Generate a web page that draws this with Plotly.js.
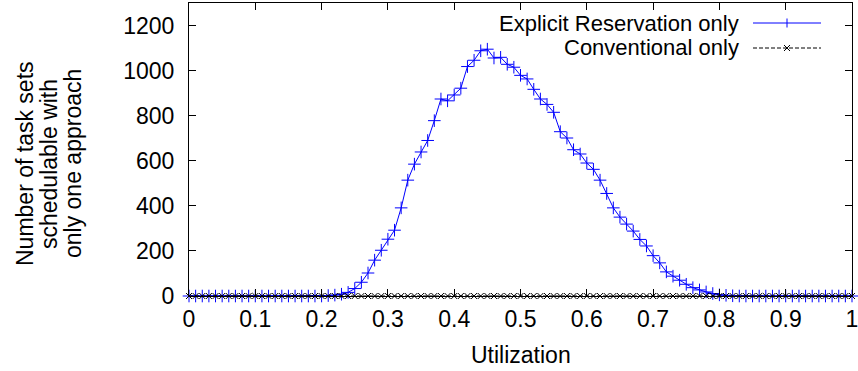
<!DOCTYPE html>
<html>
<head>
<meta charset="utf-8">
<script src="https://cdn.plot.ly/plotly-3.0.1.min.js"></script>
<style>html,body{margin:0;padding:0;background:#fff;}#chart{width:858px;height:371px;}</style>
</head>
<body>
<div id="chart"></div>
<script>
// Utilization values 0.00 .. 1.00 in steps of 0.01
const utilization = [
  0.00,0.01,0.02,0.03,0.04,0.05,0.06,0.07,0.08,0.09,
  0.10,0.11,0.12,0.13,0.14,0.15,0.16,0.17,0.18,0.19,
  0.20,0.21,0.22,0.23,0.24,0.25,0.26,0.27,0.28,0.29,
  0.30,0.31,0.32,0.33,0.34,0.35,0.36,0.37,0.38,0.39,
  0.40,0.41,0.42,0.43,0.44,0.45,0.46,0.47,0.48,0.49,
  0.50,0.51,0.52,0.53,0.54,0.55,0.56,0.57,0.58,0.59,
  0.60,0.61,0.62,0.63,0.64,0.65,0.66,0.67,0.68,0.69,
  0.70,0.71,0.72,0.73,0.74,0.75,0.76,0.77,0.78,0.79,
  0.80,0.81,0.82,0.83,0.84,0.85,0.86,0.87,0.88,0.89,
  0.90,0.91,0.92,0.93,0.94,0.95,0.96,0.97,0.98,0.99,
  1.00
];
const explicitOnly = [
  0,0,0,0,0,0,0,0,0,0,
  0,0,0,0,0,0,0,0,0,0,
  0,2,4,8,16,33,61,102,159,203,
  252,292,391,514,585,639,690,778,874,866,
  892,922,1018,1046,1088,1095,1056,1059,1028,1015,
  979,963,917,874,850,815,729,701,649,630,
  590,562,514,455,391,350,319,288,251,222,
  179,147,107,88,70,52,37,27,18,11,
  5,3,1,0,0,0,0,0,0,0,
  0,0,0,0,0,0,0,0,0,0,
  0
];
const conventionalOnly = [
  0,0,0,0,0,0,0,0,0,0,
  0,0,0,0,0,0,0,0,0,0,
  0,0,0,0,0,0,0,0,0,0,
  0,0,0,0,0,0,0,0,0,0,
  0,0,0,0,0,0,0,0,0,0,
  0,0,0,0,0,0,0,0,0,0,
  0,0,0,0,0,0,0,0,0,0,
  0,0,0,0,0,0,0,0,0,0,
  0,0,0,0,0,0,0,0,0,0,
  0,0,0,0,0,0,0,0,0,0,
  0
];
const seriesNames = ["Explicit Reservation only", "Conventional only"];
const xTickVals = [0,0.1,0.2,0.3,0.4,0.5,0.6,0.7,0.8,0.9,1];
const xTickText = ["0","0.1","0.2","0.3","0.4","0.5","0.6","0.7","0.8","0.9","1"];
const yTickVals = [0,200,400,600,800,1000,1200];
const yTickText = ["0","200","400","600","800","1000","1200"];
const xTitle = "Utilization";
const yTitleLines = ["Number of task sets", "schedulable with", "only one approach"];

const FONT = "Liberation Sans, Arial, sans-serif";
const FS = 23;
const BLUE = "#0000ff";

const traces = [
  {
    x: utilization, y: explicitOnly, name: seriesNames[0], type: "scatter", mode: "lines+markers",
    line: {color: BLUE, width: 1},
    marker: {symbol: "cross-thin", size: 9, line: {color: BLUE, width: 1}, color: BLUE},
    showlegend: false, cliponaxis: false
  },
  {
    x: utilization, y: conventionalOnly, name: seriesNames[1], type: "scatter", mode: "lines+markers",
    line: {color: "#000000", width: 1, dash: "4px,2px"},
    marker: {symbol: "x-thin", size: 6, line: {color: "#000000", width: 1}, color: "#000"},
    showlegend: false, cliponaxis: false
  }
];

// plot-area pixel geometry → paper coordinates helpers
const PL = 189, PW = 663, PT = 3, PH = 293;
const px = v => (v - PL) / PW;
const py = v => (PT + PH - v) / PH;

// custom gnuplot-style legend (text on the left, sample on the right)
const LFS = 22;
const lgX0 = px(753), lgX1 = px(821), lgXm = px(787), lgText = px(741);
const lgY = [py(23), py(48)];
const dyp = 4.5 / PH, dxx = 3 / PW, dyx = 3 / PH;
const shapes = [
  {type:"line", xref:"paper", yref:"paper", x0:lgX0, x1:lgX1, y0:lgY[0], y1:lgY[0], line:{color:BLUE, width:1}},
  {type:"line", xref:"paper", yref:"paper", x0:lgXm, x1:lgXm, y0:lgY[0]-dyp, y1:lgY[0]+dyp, line:{color:BLUE, width:1}},
  {type:"line", xref:"paper", yref:"paper", x0:lgX0, x1:lgX1, y0:lgY[1], y1:lgY[1], line:{color:"#000", width:1, dash:"4px,2px"}},
  {type:"line", xref:"paper", yref:"paper", x0:lgXm-dxx, x1:lgXm+dxx, y0:lgY[1]-dyx, y1:lgY[1]+dyx, line:{color:"#000", width:1}},
  {type:"line", xref:"paper", yref:"paper", x0:lgXm-dxx, x1:lgXm+dxx, y0:lgY[1]+dyx, y1:lgY[1]-dyx, line:{color:"#000", width:1}}
];
const annotations = [
  {xref:"paper", yref:"paper", x:lgText, y:lgY[0], xanchor:"right", yanchor:"middle", showarrow:false, text:seriesNames[0], font:{family:FONT, size:LFS, color:"#000"}},
  {xref:"paper", yref:"paper", x:lgText, y:lgY[1], xanchor:"right", yanchor:"middle", showarrow:false, text:seriesNames[1], font:{family:FONT, size:LFS, color:"#000"}},
  {xref:"paper", yref:"paper", x:px(521), y:py(355), xanchor:"center", yanchor:"middle", showarrow:false, text:xTitle, font:{family:FONT, size:FS, color:"#000"}}
];
const yTitleX = [25, 49, 73];
yTitleLines.forEach((t, i) => annotations.push({
  xref:"paper", yref:"paper", x:px(yTitleX[i]), y:py(164), xanchor:"center", yanchor:"middle",
  showarrow:false, textangle:-90, text:t, font:{family:FONT, size:FS, color:"#000"}
}));

const layout = {
  width: 858, height: 371,
  margin: {l: 189, r: 6, t: 3, b: 75},
  paper_bgcolor: "#fff", plot_bgcolor: "#fff",
  font: {family: FONT, size: FS, color: "#000"},
  showlegend: false,
  xaxis: {
    range: [0, 1], tickvals: xTickVals, ticktext: xTickText,
    ticks: "inside", ticklen: 7, tickcolor: "#000", showgrid: false, zeroline: false,
    showline: true, linecolor: "#000", linewidth: 1, mirror: "ticks",
    tickfont: {family: FONT, size: FS}, ticklabelstandoff: 2, ticklabeloverflow: "allow"
  },
  yaxis: {
    range: [0, 1300], tickvals: yTickVals, ticktext: yTickText,
    ticks: "inside", ticklen: 7, tickcolor: "#000", showgrid: false, zeroline: false,
    showline: true, linecolor: "#000", linewidth: 1, mirror: "ticks",
    tickfont: {family: FONT, size: FS}, ticklabelstandoff: 9, ticklabeloverflow: "allow"
  },
  shapes: shapes,
  annotations: annotations
};

Plotly.newPlot("chart", traces, layout, {displayModeBar: false, staticPlot: true});
</script>
</body>
</html>
